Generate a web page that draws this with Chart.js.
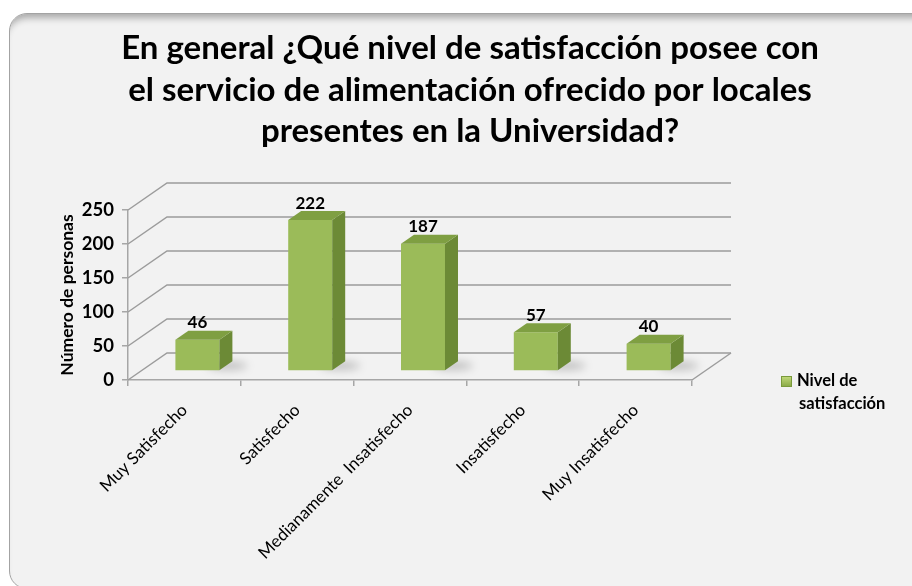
<!DOCTYPE html>
<html lang="es">
<head>
<meta charset="utf-8">
<title>Nivel de satisfacción</title>
<script src="https://cdn.jsdelivr.net/npm/chart.js@4.4.1/dist/chart.umd.min.js"></script>
<style>
  html, body { margin: 0; padding: 0; background: #fff; }
  #wrap { position: relative; width: 912px; height: 586px; overflow: hidden; }
  #frame {
    position: absolute; left: 9px; top: 13px; width: 940px; height: 574px;
    background: #f2f2f2; border: 1.5px solid #a3a3a3; border-radius: 18px;
    box-shadow: inset 0 9px 7px -5px rgba(0, 0, 0, 0.3);
  }
  #chart { position: absolute; left: 0; top: 0; }
</style>
</head>
<body>
<div id="wrap">
  <div id="frame"></div>
  <canvas id="chart" width="912" height="586"></canvas>
</div>
<script>
// chart data
const categories = [
  "Muy Satisfecho",
  "Satisfecho",
  "Medianamente  Insatisfecho",
  "Insatisfecho",
  "Muy Insatisfecho",
];
const personas = [46, 222, 187, 57, 40];
const yTicks = [0, 50, 100, 150, 200, 250];
const seriesName = "Nivel de satisfacción";
const titleLines = [
  "En general ¿Qué nivel de satisfacción posee con",
  "el servicio de alimentación ofrecido por locales",
  "presentes en la Universidad?",
];
const yTitle = "Número de personas";

// fake 3D depth: bars sit one step back from the floor edge, wall three steps back
const DX = 13;
const DY = 9;
const FONT = "Lato";

const depth3d = {
  id: "depth3d",
  beforeDatasetsDraw(chart) {
    const { ctx, chartArea: a } = chart;
    const y = chart.scales.y;
    ctx.save();
    ctx.strokeStyle = "#9c9c9c";
    ctx.lineWidth = 1.5;
    yTicks.forEach((v) => {
      const py = y.getPixelForValue(v);
      ctx.beginPath();
      ctx.moveTo(a.left, py);
      ctx.lineTo(a.left + 3 * DX, py - 3 * DY);
      ctx.lineTo(a.right + 3 * DX, py - 3 * DY);
      ctx.stroke();
    });
    // right edge of the floor
    ctx.beginPath();
    ctx.moveTo(a.right, a.bottom);
    ctx.lineTo(a.right + 3 * DX, a.bottom - 3 * DY);
    ctx.stroke();

    // soft shadows on the floor behind each bar
    const meta = chart.getDatasetMeta(0);
    ctx.filter = "blur(4px)";
    ctx.fillStyle = "rgba(0,0,0,0.22)";
    meta.data.forEach((bar) => {
      const { x, base, width } = bar.getProps(["x", "base", "width"], true);
      ctx.beginPath();
      ctx.ellipse(x + width / 2 + DX * 1.6, base - DY * 1.5, 20, 4, 0, 0, Math.PI * 2);
      ctx.fill();
    });
    ctx.restore();

    ctx.save();
    ctx.translate(DX, -DY);
  },
  afterDatasetsDraw(chart) {
    const { ctx } = chart;
    const meta = chart.getDatasetMeta(0);
    meta.data.forEach((bar, i) => {
      const { x, y, base, width } = bar.getProps(["x", "y", "base", "width"], true);
      const l = x - width / 2;
      const r = x + width / 2;

      // side face
      ctx.fillStyle = "#6c8a36";
      ctx.beginPath();
      ctx.moveTo(r, y);
      ctx.lineTo(r + DX, y - DY);
      ctx.lineTo(r + DX, base - DY);
      ctx.lineTo(r, base);
      ctx.closePath();
      ctx.fill();

      // top face
      ctx.fillStyle = "#7f9f42";
      ctx.beginPath();
      ctx.moveTo(l, y);
      ctx.lineTo(l + DX, y - DY);
      ctx.lineTo(r + DX, y - DY);
      ctx.lineTo(r, y);
      ctx.closePath();
      ctx.fill();

      // value label
      ctx.fillStyle = "#000";
      ctx.font = "bold 17px " + FONT;
      ctx.textAlign = "center";
      ctx.textBaseline = "middle";
      ctx.fillText(String(personas[i]), x, y - 17);
    });
    ctx.restore();
  },
  afterDraw(chart) {
    // legend with the series name on two lines
    const { ctx } = chart;
    ctx.save();
    const g = ctx.createLinearGradient(0, 376, 0, 387);
    g.addColorStop(0, "#c4dc7c");
    g.addColorStop(1, "#86a644");
    ctx.fillStyle = g;
    ctx.fillRect(781, 376, 11, 11);
    ctx.strokeStyle = "#7a9a3c";
    ctx.strokeRect(781.5, 376.5, 10, 10);
    ctx.fillStyle = "#000";
    ctx.font = "bold 16.5px " + FONT;
    ctx.textAlign = "left";
    ctx.textBaseline = "middle";
    const words = seriesName.split(" ");
    ctx.fillText(words.slice(0, 2).join(" "), 797, 381);
    ctx.fillText(words.slice(2).join(" "), 799, 404);
    ctx.restore();
  },
};

function frontGradient(context) {
  const { chart } = context;
  const bar = chart.getDatasetMeta(0).data[context.dataIndex];
  if (!bar || !Number.isFinite(bar.x) || !Number.isFinite(bar.width)) return "#9bbb59";
  const l = bar.x - bar.width / 2;
  const g = chart.ctx.createLinearGradient(l, 0, l + bar.width, 0);
  g.addColorStop(0, "#a6c465");
  g.addColorStop(0.5, "#9dbd5b");
  g.addColorStop(1, "#93b352");
  return g;
}

new Chart(document.getElementById("chart"), {
  type: "bar",
  data: {
    labels: categories,
    datasets: [
      {
        label: seriesName,
        data: personas,
        backgroundColor: frontGradient,
        borderWidth: 0,
        barPercentage: 0.39,
        categoryPercentage: 1,
        clip: false,
      },
    ],
  },
  options: {
    responsive: false,
    animation: false,
    layout: { padding: { left: 28, right: 0, top: 0, bottom: 0 } },
    plugins: {
      legend: { display: false },
      tooltip: { enabled: false },
      title: {
        display: true,
        text: titleLines,
        color: "#000",
        font: { family: FONT, size: 33, weight: "bold", lineHeight: "41.5px" },
        padding: { top: 28, bottom: 57.5 },
      },
    },
    scales: {
      x: {
        ticks: {
          color: "#000",
          font: { family: FONT, size: 17 },
          minRotation: 45,
          maxRotation: 45,
          autoSkip: false,
          padding: 14,
        },
        grid: { offset: true, drawOnChartArea: false, tickLength: 6, color: "#a6a6a6", lineWidth: 1.5 },
        border: { color: "#a6a6a6", width: 1.5 },
        afterFit(s) {
          s.height = 206;
        },
      },
      y: {
        min: 0,
        max: 250,
        ticks: {
          stepSize: 50,
          color: "#000",
          font: { family: FONT, size: 18.5, weight: "bold" },
          padding: 8,
        },
        grid: { drawOnChartArea: false, tickLength: 6, color: "#a6a6a6", lineWidth: 1.5 },
        border: { color: "#a6a6a6", width: 1.5 },
        title: {
          display: true,
          text: yTitle,
          color: "#000",
          font: { family: FONT, size: 17.5, weight: "bold" },
          padding: { top: 29, bottom: 0 },
        },
        afterFit(s) {
          s.width = 100;
        },
      },
      spacer: {
        type: "linear",
        position: "right",
        grid: { display: false },
        ticks: { display: false },
        border: { display: false },
        afterFit(s) {
          s.width = 220;
        },
      },
    },
  },
  plugins: [depth3d],
});
</script>
</body>
</html>
